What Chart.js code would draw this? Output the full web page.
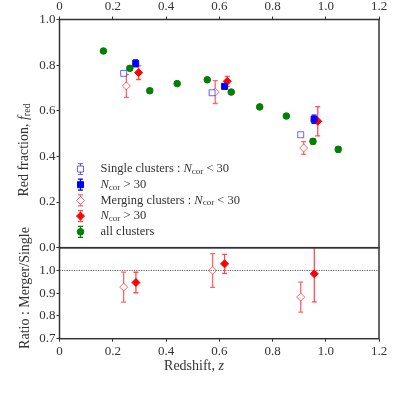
<!DOCTYPE html>
<html>
<head>
<meta charset="utf-8">
<script src="https://cdn.jsdelivr.net/npm/chart.js@4.4.1/dist/chart.umd.min.js"></script>
<style>
  html, body { margin: 0; padding: 0; background: #fff; }
  #wrap { position: relative; width: 399px; height: 399px; }
  canvas { position: absolute; left: 0; top: 0; }
</style>
</head>
<body>
<div id="wrap">
  <canvas id="ratioChart" width="399" height="399"></canvas>
  <canvas id="fracChart" width="399" height="399"></canvas>
</div>
<script>
// red fraction, all clusters
const zAll = [0.165, 0.264, 0.339, 0.442, 0.555, 0.645, 0.752, 0.852, 0.952, 1.047];
const fAll = [0.862, 0.786, 0.688, 0.719, 0.736, 0.682, 0.617, 0.577, 0.466, 0.431];
const eAll = [0.008, 0.008, 0.009, 0.008, 0.008, 0.01, 0.009, 0.01, 0.012, 0.012];

// single clusters
const zSingleLow = [0.241, 0.573, 0.906];
const fSingleLow = [0.764, 0.679, 0.495];
const eSingleLow = [0.006, 0.006, 0.006];
const zSingleHigh = [0.286, 0.620, 0.956];
const fSingleHigh = [0.808, 0.707, 0.563];
const eSingleHigh = [0.015, 0.012, 0.018];

// merging clusters
const zMergeLow = [0.251, 0.585, 0.917];
const fMergeLow = [0.709, 0.682, 0.437];
const eMergeLow = [0.05, 0.05, 0.028];
const zMergeHigh = [0.297, 0.630, 0.970];
const fMergeHigh = [0.767, 0.729, 0.554];
const eMergeHigh = [0.03, 0.022, 0.064];

// ratio merger / single
const zRatioLow = [0.241, 0.575, 0.906];
const rRatioLow = [0.927, 1.0, 0.883];
const eRatioLow = [0.066, 0.074, 0.066];
const zRatioHigh = [0.287, 0.620, 0.957];
const rRatioHigh = [0.947, 1.029, 0.985];
const eRatioHigh = [0.045, 0.042, 0.123];

const xTicks = [0, 0.2, 0.4, 0.6, 0.8, 1.0, 1.2];
const fracTicks = [0, 0.2, 0.4, 0.6, 0.8, 1.0];
const ratioTicks = [0.7, 0.8, 0.9, 1.0, 1.1];

const SERIF = '"Liberation Serif", "DejaVu Serif", serif';
const INK = '#333';

function pts(xs, ys, es) {
    return xs.map((x, i) => ({ x: x, y: ys[i], e: es ? es[i] : 0 }));
}

// error bars drawn under the markers
const errorBars = {
    id: 'errorBars',
    beforeDatasetsDraw(chart) {
        const ctx = chart.ctx;
        const area = chart.chartArea;
        const xs = chart.scales.x, ys = chart.scales.y;
        ctx.save();
        ctx.beginPath();
        ctx.rect(area.left, area.top, area.right - area.left, area.bottom - area.top);
        ctx.clip();
        chart.data.datasets.forEach(ds => {
            if (!ds.errColor) return;
            ctx.strokeStyle = ds.errColor;
            ctx.lineWidth = 1.3;
            ds.data.forEach(p => {
                if (!p.e) return;
                const px = xs.getPixelForValue(p.x);
                const y1 = ys.getPixelForValue(p.y - p.e);
                const y2 = ys.getPixelForValue(p.y + p.e);
                ctx.beginPath();
                ctx.moveTo(px, y1); ctx.lineTo(px, y2);
                ctx.moveTo(px - 2.5, y1); ctx.lineTo(px + 2.5, y1);
                ctx.moveTo(px - 2.5, y2); ctx.lineTo(px + 2.5, y2);
                ctx.stroke();
            });
        });
        ctx.restore();
    }
};

const frame = {
    id: 'frame',
    afterDraw(chart) {
        const ctx = chart.ctx;
        const a = chart.chartArea;
        ctx.save();
        ctx.strokeStyle = INK;
        ctx.lineWidth = 1.5;
        ctx.strokeRect(a.left, a.top, a.right - a.left, a.bottom - a.top);
        ctx.restore();
    }
};

// draws text with italic N and subscript "cor"
function drawRich(ctx, parts, x, y) {
    parts.forEach(p => {
        const size = p.sub ? 9 : 12.5;
        ctx.font = (p.it ? 'italic ' : '') + size + 'px ' + SERIF;
        ctx.fillText(p.t, x, y + (p.sub ? 2.5 : 0));
        x += ctx.measureText(p.t).width;
    });
}

function drawMarker(ctx, style, x, y, fill, stroke) {
    ctx.beginPath();
    if (style === 'rect') {
        ctx.rect(x - 3, y - 3, 6, 6);
    } else if (style === 'rectRot') {
        ctx.moveTo(x, y - 4); ctx.lineTo(x + 4, y); ctx.lineTo(x, y + 4); ctx.lineTo(x - 4, y); ctx.closePath();
    } else {
        ctx.arc(x, y, 3.3, 0, Math.PI * 2);
    }
    ctx.fillStyle = fill;
    ctx.fill();
    ctx.strokeStyle = stroke;
    ctx.lineWidth = 1;
    ctx.stroke();
}

const legendItems = [
    { style: 'rect', fill: '#fff', stroke: 'rgba(0,0,255,0.6)', err: 'rgba(0,0,255,0.6)',
      text: [{ t: 'Single clusters : ' }, { t: 'N', it: true }, { t: 'cor', sub: true }, { t: ' < 30' }] },
    { style: 'rect', fill: 'blue', stroke: 'blue', err: 'blue',
      text: [{ t: 'N', it: true }, { t: 'cor', sub: true }, { t: ' > 30' }] },
    { style: 'rectRot', fill: '#fff', stroke: 'rgba(255,0,0,0.6)', err: 'rgba(255,0,0,0.6)',
      text: [{ t: 'Merging clusters : ' }, { t: 'N', it: true }, { t: 'cor', sub: true }, { t: ' < 30' }] },
    { style: 'rectRot', fill: 'red', stroke: 'red', err: 'rgba(255,0,0,0.7)',
      text: [{ t: 'N', it: true }, { t: 'cor', sub: true }, { t: ' > 30' }] },
    { style: 'circle', fill: 'green', stroke: 'green', err: 'green',
      text: [{ t: 'all clusters' }] }
];

const fracDecor = {
    id: 'fracDecor',
    afterDraw(chart) {
        const ctx = chart.ctx;
        ctx.save();
        ctx.textBaseline = 'middle';
        ctx.textAlign = 'left';
        legendItems.forEach((it, i) => {
            const y = 169 + i * 15.7;
            const x = 80.5;
            ctx.strokeStyle = it.err;
            ctx.lineWidth = 1.2;
            ctx.beginPath();
            ctx.moveTo(x, y - 5.5); ctx.lineTo(x, y + 5.5);
            ctx.moveTo(x - 2.5, y - 5.5); ctx.lineTo(x + 2.5, y - 5.5);
            ctx.moveTo(x - 2.5, y + 5.5); ctx.lineTo(x + 2.5, y + 5.5);
            ctx.stroke();
            drawMarker(ctx, it.style, x, y, it.fill, it.stroke);
            ctx.fillStyle = INK;
            drawRich(ctx, it.text, 100.5, y);
        });
        // y title
        ctx.translate(24, 150);
        ctx.rotate(-Math.PI / 2);
        ctx.textAlign = 'left';
        ctx.fillStyle = INK;
        const parts = [{ t: 'Red fraction, ' }, { t: 'f', it: true }, { t: 'red', sub: true }];
        ctx.font = '14px ' + SERIF;
        let w = 0;
        parts.forEach(p => {
            ctx.font = (p.it ? 'italic ' : '') + (p.sub ? 10 : 14) + 'px ' + SERIF;
            w += ctx.measureText(p.t).width;
        });
        let x = -w / 2;
        parts.forEach(p => {
            ctx.font = (p.it ? 'italic ' : '') + (p.sub ? 10 : 14) + 'px ' + SERIF;
            ctx.fillText(p.t, x, p.sub ? 3 : 0);
            x += ctx.measureText(p.t).width;
        });
        ctx.restore();
    }
};

const ratioDecor = {
    id: 'ratioDecor',
    afterDraw(chart) {
        const ctx = chart.ctx;
        ctx.save();
        ctx.fillStyle = INK;
        ctx.textBaseline = 'middle';
        ctx.textAlign = 'left';
        ctx.font = '14px ' + SERIF;
        const w1 = ctx.measureText('Redshift, ').width;
        ctx.font = 'italic 14px ' + SERIF;
        const w2 = ctx.measureText('z').width;
        let x = 194 - (w1 + w2) / 2;
        ctx.font = '14px ' + SERIF;
        ctx.fillText('Redshift, ', x, 366);
        ctx.font = 'italic 14px ' + SERIF;
        ctx.fillText('z', x + w1, 366);
        ctx.translate(25, 288);
        ctx.rotate(-Math.PI / 2);
        ctx.textAlign = 'center';
        ctx.font = '14px ' + SERIF;
        ctx.fillText('Ratio : Merger/Single', 0, 0);
        ctx.restore();
    }
};

function xFmt(v) { return v === 0 ? '0' : Number(v).toFixed(1); }

function xScale(position, height) {
    return {
        type: 'linear', position: position, min: 0, max: 1.2,
        afterBuildTicks: s => { s.ticks = xTicks.map(v => ({ value: v })); },
        afterFit: s => { s.height = height; },
        ticks: { callback: xFmt, color: INK, font: { family: SERIF, size: 13 }, padding: 2, maxRotation: 0, autoSkip: false },
        grid: { drawOnChartArea: false, drawTicks: true, tickLength: 3, color: INK },
        border: { display: false }
    };
}

const pointDefaults = { showLine: false, borderWidth: 1 };

new Chart(document.getElementById('fracChart'), {
    type: 'scatter',
    data: {
        datasets: [
            Object.assign({ data: pts(zAll, fAll, eAll), pointStyle: 'circle', pointRadius: 3.3,
                backgroundColor: 'green', borderColor: 'green', errColor: 'green' }, pointDefaults),
            Object.assign({ data: pts(zSingleLow, fSingleLow, eSingleLow), pointStyle: 'rect', pointRadius: 4.2,
                backgroundColor: '#fff', borderColor: 'rgba(0,0,255,0.6)', errColor: 'rgba(0,0,255,0.6)' }, pointDefaults),
            Object.assign({ data: pts(zSingleHigh, fSingleHigh, eSingleHigh), pointStyle: 'rect', pointRadius: 4.2,
                backgroundColor: 'blue', borderColor: 'blue', errColor: 'blue' }, pointDefaults),
            Object.assign({ data: pts(zMergeLow, fMergeLow, eMergeLow), pointStyle: 'rectRot', pointRadius: 4,
                backgroundColor: '#fff', borderColor: 'rgba(255,0,0,0.6)', errColor: 'rgba(255,0,0,0.6)' }, pointDefaults),
            Object.assign({ data: pts(zMergeHigh, fMergeHigh, eMergeHigh), pointStyle: 'rectRot', pointRadius: 4,
                backgroundColor: 'red', borderColor: 'red', errColor: 'rgba(255,0,0,0.7)' }, pointDefaults)
        ]
    },
    options: {
        responsive: false,
        animation: false,
        layout: { padding: { top: 0, left: 4.5, right: 20, bottom: 151.3 } },
        plugins: { legend: { display: false }, tooltip: { enabled: false } },
        scales: {
            x: xScale('top', 19.5),
            y: {
                type: 'linear', min: 0, max: 1.0,
                afterBuildTicks: s => { s.ticks = fracTicks.map(v => ({ value: v })); },
                afterFit: s => { s.width = 55; },
                ticks: { callback: v => Number(v).toFixed(1), color: INK, font: { family: SERIF, size: 13 }, padding: 1, autoSkip: false },
                grid: { drawOnChartArea: false, drawTicks: true, tickLength: 3, color: INK },
                border: { display: false }
            }
        }
    },
    plugins: [errorBars, frame, fracDecor]
});

new Chart(document.getElementById('ratioChart'), {
    type: 'scatter',
    data: {
        datasets: [
            { type: 'line', data: [{ x: 0, y: 1.0 }, { x: 1.2, y: 1.0 }], borderColor: '#555', borderWidth: 1,
              borderDash: [1.2, 1.2], pointRadius: 0, showLine: true },
            Object.assign({ data: pts(zRatioLow, rRatioLow, eRatioLow), pointStyle: 'rectRot', pointRadius: 4,
                backgroundColor: '#fff', borderColor: 'rgba(255,0,0,0.6)', errColor: 'rgba(255,0,0,0.6)' }, pointDefaults),
            Object.assign({ data: pts(zRatioHigh, rRatioHigh, eRatioHigh), pointStyle: 'rectRot', pointRadius: 4,
                backgroundColor: 'red', borderColor: 'red', errColor: 'rgba(255,0,0,0.7)' }, pointDefaults)
        ]
    },
    options: {
        responsive: false,
        animation: false,
        layout: { padding: { top: 247.7, left: 4.5, right: 20, bottom: 20.3 } },
        plugins: { legend: { display: false }, tooltip: { enabled: false } },
        scales: {
            x: xScale('bottom', 40),
            y: {
                type: 'linear', min: 0.7, max: 1.1,
                afterBuildTicks: s => { s.ticks = ratioTicks.map(v => ({ value: v })); },
                afterFit: s => { s.width = 55; },
                ticks: { callback: v => (Math.abs(v - 1.1) < 1e-6 ? '' : Number(v).toFixed(1)), color: INK,
                         font: { family: SERIF, size: 13 }, padding: 1, autoSkip: false },
                grid: { drawOnChartArea: false, drawTicks: true, tickLength: 3, color: INK },
                border: { display: false }
            }
        }
    },
    plugins: [errorBars, frame, ratioDecor]
});
</script>
</body>
</html>
